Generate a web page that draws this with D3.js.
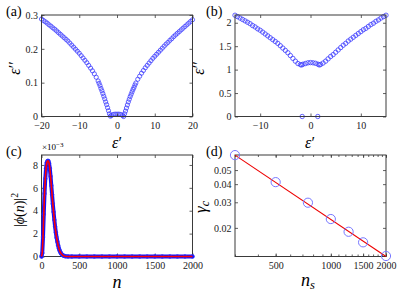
<!DOCTYPE html>
<html><head><meta charset="utf-8">
<script src="https://cdn.jsdelivr.net/npm/d3@7"></script>
<style>
body{margin:0;background:#fff}
</style>
</head><body>
<svg id="chart" width="399" height="293" style="font-family:'Liberation Serif'"></svg>
<script>
// ---------- Panel (a) data ----------
const aRe = [-20,-19.5,-19,-18.5,-18,-17.5,-17,-16.5,-16,-15.5,-15,-14.5,-14,-13.5,-13,-12.5,-12,-11.5,-11,-10.5,-10,-9.5,-9,-8.5,-8,-7.5,-7,-6.5,-6,-5.5,-5,-4.75,-4.5,-4.25,-4,-3.75,-3.5,-3.25,-3,-2.75,-2.5,-2.25,-2,-1.75,
  -1.5,-1,-0.5,0,0.5,1,1.5,
  1.75,2,2.25,2.5,2.75,3,3.25,3.5,3.75,4,4.25,4.5,4.75,5,5.5,6,6.5,7,7.5,8,8.5,9,9.5,10,10.5,11,11.5,12,12.5,13,13.5,14,14.5,15,15.5,16,16.5,17,17.5,18,18.5,19,19.5,20];
const aIm = [0.288,0.284,0.280,0.276,0.271,0.267,0.262,0.258,0.253,0.248,0.243,0.238,0.233,0.228,0.223,0.217,0.211,0.205,0.199,0.193,0.187,0.180,0.173,0.166,0.159,0.151,0.143,0.135,0.126,0.116,0.105,0.098,0.091,0.083,0.076,0.068,0.060,0.052,0.043,0.035,0.026,0.017,0.008,0.001,
  0.003,0.006,0.007,0.007,0.007,0.006,0.003,
  0.000,0.008,0.016,0.025,0.034,0.043,0.051,0.059,0.066,0.073,0.080,0.086,0.093,0.099,0.110,0.119,0.128,0.136,0.144,0.151,0.158,0.165,0.172,0.178,0.184,0.190,0.196,0.202,0.208,0.214,0.219,0.225,0.230,0.236,0.241,0.246,0.251,0.256,0.261,0.266,0.271,0.276,0.281,0.286];
const aXTicks = [-20,-10,0,10,20];
const aYTicks = [0,0.1,0.2,0.3];

// ---------- Panel (b) data ----------
const bRe = [-15,-14.5,-14,-13.5,-13,-12.5,-12,-11.5,-11,-10.5,-10,-9.5,-9,-8.5,-8,-7.5,-7,-6.5,-6,-5.5,-5,-4.5,-4,-3.5,-3,-2.5,-2,-1.75,-1.5,-1,-0.5,0,0.5,1,1.5,1.75,2,2.5,3,3.5,4,4.5,5,5.5,6,6.5,7,7.5,8,8.5,9,9.5,10,10.5,11,11.5,12,12.5,13,13.5,14,14.5,15];
const bIm = [2.16,2.13,2.10,2.07,2.04,2.01,1.98,1.94,1.91,1.87,1.84,1.80,1.76,1.72,1.68,1.64,1.60,1.56,1.51,1.46,1.41,1.36,1.30,1.24,1.18,1.13,1.105,1.10,1.115,1.13,1.145,1.15,1.145,1.135,1.115,1.10,1.11,1.14,1.18,1.23,1.28,1.32,1.37,1.42,1.47,1.52,1.56,1.61,1.65,1.69,1.73,1.77,1.81,1.85,1.88,1.92,1.96,1.99,2.03,2.06,2.10,2.13,2.16];
const bReZero = [-1.65,1.45];
const bImZero = [0,0];
const bXTicks = [-10,0,10];
const bYTicks = [0,0.5,1,1.5,2];

// ---------- Panel (c) data (x 1e-3) ----------
const cN = [0,10,20,30,40,50,60,70,80,90,100,110,120,130,140,150,160,170,180,190,200,210,220,230,240,250,260,280,300,320,350,400,500,600,700,800,900,1000,1100,1200,1300,1400,1500,1600,1700,1800,1900,2000];
const cP = [0,0.3,1.7,3.7,5.5,6.8,7.7,8.2,8.35,8.35,8.15,7.7,7.0,6.2,5.4,4.6,3.9,3.2,2.6,2.1,1.65,1.3,0.98,0.72,0.52,0.37,0.26,0.12,0.05,0.02,0.005,0,0,0,0,0,0,0,0,0,0,0,0,0,0,0,0,0];
const cXTicks = [0,500,1000,1500,2000];
const cYTicks = [0,2,4,6,8];

// ---------- Panel (d) data ----------
const dNs = [300,500,750,1000,1250,1500,2000];
const dGamma = [0.0634,0.0413,0.0298,0.0230,0.0188,0.0159,0.0128];
const dFitNs = [300,2000];
const dFitGamma = [0.0634,0.0127];
const dXTicks = [500,1000,1500,2000];
const dXMinor = [300,400,500,600,700,800,900,1000,1100,1200,1300,1400,1500,1600,1700,1800,1900,2000];
const dYTicks = [0.02,0.03,0.04,0.05];

const svg = d3.select("#chart");
const AX = "#3a3a3a";
const SERIF = "'Liberation Serif'";

function frame(g, x, y, opt) {
  const [x0,x1] = x.range(), [y1,y0] = y.range();
  g.append("g").attr("transform",`translate(0,${y1})`)
    .call(d3.axisBottom(x).tickValues(opt.xt).tickSizeInner(-3).tickSizeOuter(0).tickPadding(5).tickFormat(opt.xf||d3.format("")));
  g.append("g").attr("transform",`translate(${x0},0)`)
    .call(d3.axisLeft(y).tickValues(opt.yt).tickSizeInner(-3).tickSizeOuter(0).tickPadding(3.5).tickFormat(opt.yf||d3.format("")));
  g.append("g").attr("transform",`translate(0,${y0})`)
    .call(d3.axisTop(x).tickValues(opt.xt).tickSizeInner(-3).tickSizeOuter(0).tickFormat(""));
  g.append("g").attr("transform",`translate(${x1},0)`)
    .call(d3.axisRight(y).tickValues(opt.yt).tickSizeInner(-3).tickSizeOuter(0).tickFormat(""));
  if (opt.xminor) {
    g.append("g").attr("transform",`translate(0,${y1})`)
      .call(d3.axisBottom(x).tickValues(opt.xminor).tickSizeInner(-2).tickSizeOuter(0).tickFormat(""));
    g.append("g").attr("transform",`translate(0,${y0})`)
      .call(d3.axisTop(x).tickValues(opt.xminor).tickSizeInner(-2).tickSizeOuter(0).tickFormat(""));
  }
  g.selectAll(".domain").remove();
  g.selectAll("g").attr("font-family",SERIF).attr("font-size",10);
  g.selectAll(".tick line").attr("stroke",AX).attr("stroke-width",0.8);
  g.selectAll(".tick text").attr("font-family",SERIF).attr("font-size",10).attr("fill","#222");
  g.append("rect").attr("x",x0).attr("y",y0).attr("width",x1-x0).attr("height",y1-y0)
    .attr("fill","none").attr("stroke",AX).attr("stroke-width",1);
}

function label(x, y, size, rot, parts) {
  const t = svg.append("text").attr("text-anchor","middle").attr("font-size",size).attr("font-family",SERIF)
    .attr("transform",`translate(${x},${y})` + (rot?" rotate(-90)":""));
  parts.forEach(p=>{
    const s = t.append("tspan").text(p.t);
    if (p.i) s.attr("font-style","italic");
    if (p.small) s.attr("font-size",size*0.7);
    if (p.dy) s.attr("dy",p.dy);
  });
  return t;
}

// ---- (a)
{
  const x = d3.scaleLinear().domain([-20,20]).range([41.5,192.5]);
  const y = d3.scaleLinear().domain([0,0.3]).range([116.5,15]);
  const g = svg.append("g");
  g.append("g").selectAll("circle").data(aRe).join("circle")
    .attr("cx",(d)=>x(d)).attr("cy",(d,i)=>y(aIm[i])).attr("r",2.1)
    .attr("fill","none").attr("stroke","#3c3cff").attr("stroke-width",0.8);
  frame(g,x,y,{xt:aXTicks,yt:aYTicks});
}
// ---- (b)
{
  const x = d3.scaleLinear().domain([-15,15]).range([235,386]);
  const y = d3.scaleLinear().domain([0,2.165]).range([116.5,15]);
  const g = svg.append("g");
  g.append("g").selectAll("circle").data(bRe).join("circle")
    .attr("cx",(d)=>x(d)).attr("cy",(d,i)=>y(bIm[i])).attr("r",2.2)
    .attr("fill","none").attr("stroke","#3c3cff").attr("stroke-width",0.8);
  g.append("g").selectAll("circle").data(bReZero).join("circle")
    .attr("cx",(d)=>x(d)).attr("cy",(d,i)=>y(bImZero[i])).attr("r",2.2)
    .attr("fill","none").attr("stroke","#3c3cff").attr("stroke-width",0.8);
  frame(g,x,y,{xt:bXTicks,yt:bYTicks});
}
// ---- (c)
{
  const x = d3.scaleLinear().domain([0,2000]).range([41.5,192.5]);
  const y = d3.scaleLinear().domain([0,8.87]).range([256.5,155]);
  const g = svg.append("g");
  frame(g,x,y,{xt:cXTicks,yt:cYTicks});
  const line = d3.line().x(d=>x(d)).y((d,i)=>y(cP[i]));
  g.append("path").attr("d",line(cN)).attr("fill","none").attr("stroke","#1010ff")
    .attr("stroke-width",4).attr("stroke-linecap","round").attr("stroke-linejoin","round");
  g.append("g").selectAll("circle").data(cN).join("circle")
    .attr("cx",d=>x(d)).attr("cy",(d,i)=>y(cP[i])).attr("r",1.8)
    .attr("fill","none").attr("stroke","#2a2aff").attr("stroke-width",0.8);
  g.append("path").attr("d",line(cN)).attr("fill","none").attr("stroke","#ff0000")
    .attr("stroke-width",1.6);
}
// ---- (d)
{
  const x = d3.scaleLog().domain([300,2000]).range([235,386]);
  const y = d3.scaleLog().domain([0.0127,0.0635]).range([256.5,155]);
  const g = svg.append("g");
  frame(g,x,y,{xt:dXTicks,yt:dYTicks,xminor:dXMinor,xf:d3.format("d"),yf:d3.format(".2f")});
  const line = d3.line().x(d=>x(d)).y((d,i)=>y(dFitGamma[i]));
  g.append("path").attr("d",line(dFitNs)).attr("fill","none").attr("stroke","#ee0000").attr("stroke-width",1.1);
  g.append("g").selectAll("circle").data(dNs).join("circle")
    .attr("cx",d=>x(d)).attr("cy",(d,i)=>y(dGamma[i])).attr("r",4.6)
    .attr("fill","none").attr("stroke","#7878ff").attr("stroke-width",1);
}

// ---- panel letters
[["(a)",6,16],["(b)",206,16],["(c)",6,156],["(d)",206,156]].forEach(([t,x,y])=>{
  svg.append("text").attr("x",x).attr("y",y).attr("font-size",14).attr("font-family",SERIF).text(t);
});

// ---- axis labels
label(117,148,16,false,[{t:"ε",i:true},{t:"′"}]);
label(310,148,16,false,[{t:"ε",i:true},{t:"′"}]);
label(20,68,16,true,[{t:"ε",i:true},{t:"′′"}]);
label(204,68,16,true,[{t:"ε",i:true},{t:"′′"}]);
label(117,288,18,false,[{t:"n",i:true}]);
label(308,286,18,false,[{t:"n",i:true},{t:"s",i:true,small:true,dy:"3"}]);
label(24,210,14,true,[{t:"|"},{t:"ϕ",i:true},{t:"("},{t:"n",i:true},{t:")|"},{t:"2",small:true,dy:"-6"}]);
label(206,207,17,true,[{t:"γ",i:true},{t:"c",i:true,small:true,dy:"3"}]);
// x10^-3
{
  const t = svg.append("text").attr("x",42).attr("y",150).attr("font-size",9).attr("font-family",SERIF);
  t.append("tspan").text("×10");
  t.append("tspan").attr("font-size",7).attr("dy","-3.5").text("−3");
}
</script>
</body></html>
